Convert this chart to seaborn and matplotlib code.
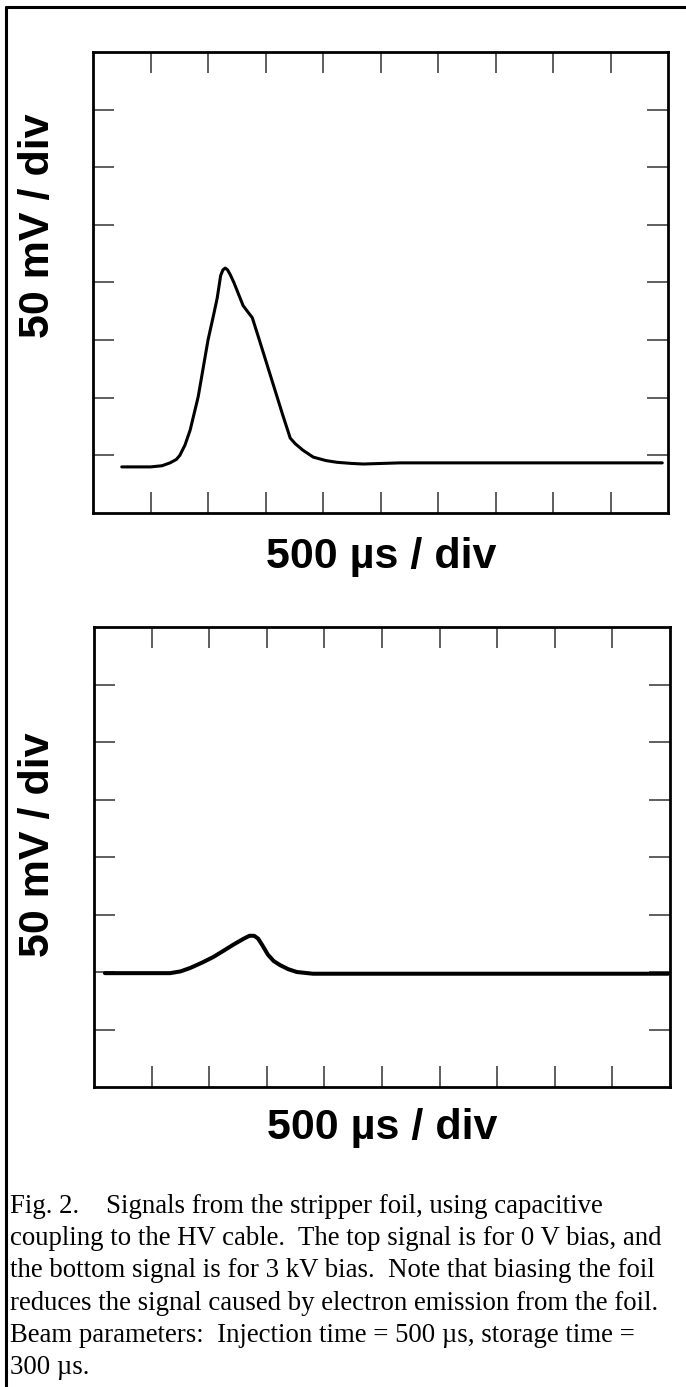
import matplotlib
matplotlib.use("Agg")
import matplotlib.pyplot as plt
from matplotlib.lines import Line2D
import pandas as pd
import seaborn as sns

# Top trace: 0 V bias (x in divisions of 500 us, y in divisions of 50 mV)
top_x = [0.5, 1.0, 1.2, 1.34, 1.45, 1.51, 1.6, 1.69, 1.83, 2.0, 2.1, 2.16, 2.22,
         2.26, 2.3, 2.34, 2.39, 2.45, 2.53, 2.61, 2.7, 2.77, 2.9, 3.0, 3.1, 3.2,
         3.3, 3.43, 3.52, 3.65, 3.83, 4.05, 4.24, 4.5, 4.7, 5.34, 7.0, 9.9]
top_y = [0.80, 0.80, 0.82, 0.87, 0.93, 1.0, 1.18, 1.44, 2.02, 3.0, 3.45, 3.73, 4.12,
         4.22, 4.25, 4.22, 4.13, 4.0, 3.8, 3.6, 3.48, 3.39, 2.98, 2.66, 2.34, 2.02,
         1.70, 1.30, 1.20, 1.09, 0.97, 0.91, 0.88, 0.86, 0.85, 0.87, 0.87, 0.87]

# Bottom trace: 3 kV bias
bot_x = [0.19, 1.32, 1.5, 1.67, 1.87, 2.07, 2.25, 2.41, 2.6, 2.7, 2.78, 2.85,
         2.92, 3.02, 3.12, 3.23, 3.37, 3.52, 3.8, 5.0, 9.97]
bot_y = [1.98, 1.98, 2.01, 2.07, 2.16, 2.26, 2.37, 2.47, 2.58, 2.63, 2.63, 2.58,
         2.47, 2.30, 2.19, 2.12, 2.05, 2.0, 1.97, 1.97, 1.97]

x_div = 10
y_div = 8
x_label = "500 \u00b5s / div"
y_label = "50 mV / div"
caption = ("Fig. 2.    Signals from the stripper foil, using capacitive\n"
           "coupling to the HV cable.  The top signal is for 0 V bias, and\n"
           "the bottom signal is for 3 kV bias.  Note that biasing the foil\n"
           "reduces the signal caused by electron emission from the foil.\n"
           "Beam parameters:  Injection time = 500 \u00b5s, storage time =\n"
           "300 \u00b5s.")

sns.set_style("white")
plt.rcParams["font.family"] = ["Liberation Sans", "DejaVu Sans"]

W, H = 686, 1387
fig = plt.figure(figsize=(W / 100, H / 100), dpi=100)


def px_axes(left, top, right, bottom):
    return fig.add_axes([left / W, 1 - bottom / H, (right - left) / W, (bottom - top) / H])


def style_scope(ax):
    ax.set_xlim(0, x_div)
    ax.set_ylim(0, y_div)
    ax.set_xticks(range(1, x_div))
    ax.set_yticks(range(1, y_div))
    ax.set_xticklabels([])
    ax.set_yticklabels([])
    ax.tick_params(direction="in", length=15, width=1.1, color="#333333",
                   top=True, right=True, bottom=True, left=True)
    for sp in ax.spines.values():
        sp.set_visible(True)
        sp.set_color("black")
        sp.set_linewidth(2.0)
    ax.set_xlabel("")
    ax.set_ylabel("")
    if ax.get_legend() is not None:
        ax.get_legend().remove()


ax1 = px_axes(93, 52, 668, 513)
sns.lineplot(data=pd.DataFrame({"t": top_x, "v": top_y}), x="t", y="v",
             ax=ax1, color="black", linewidth=2.2, sort=False)
style_scope(ax1)

ax2 = px_axes(94, 627, 670, 1087)
sns.lineplot(data=pd.DataFrame({"t": bot_x, "v": bot_y}), x="t", y="v",
             ax=ax2, color="black", linewidth=2.9, sort=False)
style_scope(ax2)

lab = dict(fontsize=31, fontweight="bold", color="black", ha="center", va="center")
fig.text(38 / W, 1 - 226 / H, y_label, rotation=90, **lab)
fig.text(38 / W, 1 - 845 / H, y_label, rotation=90, **lab)
fig.text(381 / W, 1 - 557 / H, x_label, **lab)
fig.text(382 / W, 1 - 1128 / H, x_label, **lab)

fig.text(10 / W, 1 - 1194 / H, caption, family=["Liberation Serif", "DejaVu Serif"],
         fontsize=19.3, ha="left", va="top", linespacing=1.38, color="black")

# outer frame (left and top edges)
fig.add_artist(Line2D([6 / W, 6 / W], [0, 1 - 7 / H], color="black", linewidth=2.2,
                      transform=fig.transFigure))
fig.add_artist(Line2D([6 / W, 1], [1 - 7 / H, 1 - 7 / H], color="black", linewidth=2.2,
                      transform=fig.transFigure))

fig.savefig("out.png", dpi=100, facecolor="white")
